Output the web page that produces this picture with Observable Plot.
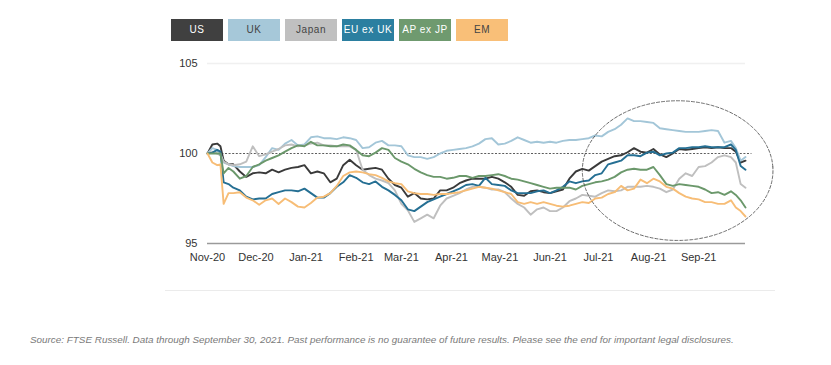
<!DOCTYPE html>
<html>
<head>
<meta charset="utf-8">
<script src="https://cdn.jsdelivr.net/npm/d3@7"></script>
<script src="https://cdn.jsdelivr.net/npm/@observablehq/plot@0.6"></script>
<style>
  html, body { margin: 0; padding: 0; background: #fff; }
  body { width: 831px; height: 365px; position: relative; overflow: hidden; font-family: "Liberation Sans", Arial, sans-serif; }
  #legend { position: absolute; left: 171px; top: 19px; display: flex; gap: 5px; }
  #legend div { width: 52px; height: 22px; line-height: 22px; text-align: center; font-size: 10px; letter-spacing: 0.6px; white-space: nowrap; }
  #chart { position: absolute; left: 0; top: 50px; }
  #sep { position: absolute; left: 165px; top: 290px; width: 610px; height: 1px; background: #ebebeb; }
  #source { position: absolute; left: 30px; top: 334px; font-size: 9.9px; font-style: italic; color: #7a7a7a; white-space: nowrap; }
</style>
</head>
<body>
<div id="legend"></div>
<div id="chart"></div>
<div id="sep"></div>
<div id="source">Source: FTSE Russell. Data through September 30, 2021. Past performance is no guarantee of future results. Please see the end for important legal disclosures.</div>
<script>
const seriesNames = ["US", "UK", "Japan", "EU ex UK", "AP ex JP", "EM"];
const lineColors = ["#3a3a3a", "#a3c6d8", "#bfbfbf", "#256f93", "#6b986b", "#f7bd76"];
const boxColors = ["#404040", "#a6c8d9", "#c0c0c0", "#2b7fa0", "#6f9a6f", "#f9bf78"];
const boxText = ["#fff", "#444", "#444", "#fff", "#fff", "#444"];

const xTickDates = ["2020-11-01","2020-12-01","2021-01-01","2021-02-01","2021-03-01","2021-04-01","2021-05-01","2021-06-01","2021-07-01","2021-08-01","2021-09-01"];
const yTicks = [95, 100, 105];

const dates = ["2020-11-01","2020-11-04","2020-11-07","2020-11-09","2020-11-11","2020-11-14","2020-11-17","2020-11-21","2020-11-25","2020-11-29",
"2020-12-03","2020-12-07","2020-12-11","2020-12-15","2020-12-19","2020-12-23","2020-12-27","2020-12-31",
"2021-01-04","2021-01-08","2021-01-12","2021-01-16","2021-01-20","2021-01-24","2021-01-28",
"2021-02-01","2021-02-05","2021-02-09","2021-02-13","2021-02-17","2021-02-21","2021-02-25",
"2021-03-01","2021-03-05","2021-03-09","2021-03-13","2021-03-17","2021-03-21","2021-03-25","2021-03-29",
"2021-04-02","2021-04-06","2021-04-10","2021-04-14","2021-04-18","2021-04-22","2021-04-26","2021-04-30",
"2021-05-04","2021-05-08","2021-05-12","2021-05-16","2021-05-20","2021-05-24","2021-05-28",
"2021-06-01","2021-06-05","2021-06-09","2021-06-13","2021-06-17","2021-06-21","2021-06-25","2021-06-29",
"2021-07-03","2021-07-07","2021-07-11","2021-07-15","2021-07-19","2021-07-23","2021-07-27","2021-07-31",
"2021-08-04","2021-08-08","2021-08-12","2021-08-16","2021-08-20","2021-08-24","2021-08-28",
"2021-09-01","2021-09-05","2021-09-09","2021-09-13","2021-09-17","2021-09-21","2021-09-24","2021-09-27","2021-09-30"];

const us = [100,100.5,100.55,100.4,99.6,99.4,99.4,99.0,98.7,98.9,
98.95,98.9,99.1,98.95,99.1,99.2,99.25,99.35,
98.9,99.0,98.9,98.4,98.6,99.35,99.65,
99.35,99.1,99.15,99.2,99.1,98.6,98.25,
98.1,97.6,97.8,97.5,97.45,97.5,97.95,97.95,
98.1,98.35,98.5,98.6,98.6,98.6,98.7,98.6,
98.4,98.15,97.7,97.65,97.9,97.95,97.85,
97.8,97.9,98.0,98.6,99.0,99.15,99.05,99.3,
99.55,99.7,99.85,99.9,100.07,100.3,100.1,100.05,
100.25,99.95,99.8,100.0,100.25,100.2,100.25,
100.3,100.35,100.3,100.35,100.3,100.3,100.1,99.5,99.6];

const uk = [100,100.3,100.2,100.0,99.5,99.4,99.3,99.25,99.25,99.25,
99.35,99.8,100.3,100.2,100.55,100.75,100.45,100.5,
100.9,100.95,100.85,100.85,100.8,100.9,100.85,
100.75,100.3,100.35,100.6,100.7,100.45,100.45,
100.4,99.9,99.8,99.8,99.7,99.8,100.0,100.15,
100.2,100.25,100.3,100.4,100.55,100.8,100.85,100.5,
100.55,100.7,100.9,100.75,100.6,100.65,100.6,
100.65,100.6,100.7,100.75,100.75,100.8,100.85,101.0,
100.95,101.2,101.35,101.6,101.95,101.8,101.8,101.75,
101.7,101.4,101.35,101.3,101.25,101.2,101.2,
101.2,101.25,101.3,101.25,100.6,100.7,100.3,99.6,99.8];

const japan = [100,100.1,100.0,99.9,99.55,99.4,99.35,99.4,99.55,100.4,
99.85,99.95,100.1,100.25,100.45,100.5,100.4,100.45,
100.55,100.6,100.45,100.45,100.4,100.4,100.4,
100.2,99.1,98.8,98.6,98.5,98.35,97.95,
97.2,96.85,96.2,96.4,96.6,96.4,97.1,97.5,
97.65,97.8,98.0,98.15,98.15,98.1,98.0,98.0,
97.85,97.5,97.2,97.0,96.6,96.9,97.0,
96.8,96.8,97.0,97.35,97.5,97.7,97.65,97.6,
97.8,97.95,97.9,97.95,98.15,98.15,98.15,98.2,
98.15,98.05,97.85,98.0,98.6,98.9,98.75,
99.25,99.3,99.5,99.8,99.9,99.8,99.5,98.3,98.1];

const euExUk = [100,100.05,100.2,100.1,98.4,98.3,98.1,97.95,97.6,97.45,
97.5,97.5,97.75,97.85,97.95,97.95,97.9,98.05,
97.8,97.55,97.55,97.8,98.15,98.4,98.8,
98.65,98.4,98.3,98.45,98.15,97.95,97.7,
97.4,96.9,96.8,97.05,97.3,97.45,97.6,97.75,
97.9,98.05,98.25,98.3,98.2,98.65,98.3,98.25,
98.2,97.95,97.8,97.8,97.8,97.9,97.95,
97.8,97.95,98.15,98.45,98.35,98.45,98.5,98.8,
98.9,99.4,99.5,99.6,99.9,99.9,99.85,100.05,
100.1,99.9,100.0,100.05,100.3,100.3,100.35,
100.35,100.4,100.35,100.35,100.35,100.5,100.2,99.3,99.1];

const apExJp = [100,100.0,100.0,100.0,98.9,99.2,99.0,98.6,98.75,99.25,
99.4,99.6,99.75,99.9,100.1,100.3,100.45,100.4,
100.65,100.45,100.45,100.4,100.4,100.5,100.45,
100.2,99.9,99.85,100.05,100.3,100.2,99.75,
99.55,99.4,99.15,98.95,98.8,98.7,98.7,98.6,
98.65,98.75,98.75,98.65,98.75,98.75,98.8,98.85,
98.75,98.6,98.55,98.45,98.35,98.25,98.15,
98.05,98.1,98.1,98.1,98.0,98.2,98.3,98.4,
98.45,98.55,98.7,98.95,99.1,99.15,99.1,99.1,
99.25,98.8,98.3,98.2,98.3,98.25,98.2,
98.15,98.0,97.8,97.85,97.7,97.9,97.7,97.4,97.0];

const em = [100,99.5,99.35,99.4,97.2,97.8,97.8,97.85,97.55,97.4,
97.15,97.4,97.5,97.2,97.5,97.3,97.05,97.0,
97.25,97.55,97.6,97.8,98.2,98.75,98.95,
99.0,98.95,98.85,98.8,98.65,98.45,98.35,
98.3,97.9,97.8,97.75,97.75,97.7,97.75,97.75,
97.8,97.85,97.95,98.05,98.15,98.1,98.05,97.95,
97.85,97.75,97.3,97.2,97.3,97.2,97.3,
97.2,97.1,97.05,97.1,97.2,97.3,97.25,97.5,
97.55,97.75,97.85,98.2,97.95,98.05,98.55,98.35,
98.6,98.45,98.15,98.05,97.8,97.6,97.5,
97.45,97.3,97.3,97.2,97.2,97.4,97.0,96.8,96.5];

// Dashed ellipse annotation (centre and radii in data units)
const ellipseCenterDate = "2021-08-19";
const ellipseCenterValue = 99.05;
const ellipseRadiusDays = 59;
const ellipseRadiusValue = 3.88;
const refLineEnd = "2021-10-04";

// Legend
const legend = document.getElementById("legend");
seriesNames.forEach((n, i) => {
  const d = document.createElement("div");
  d.textContent = n;
  d.style.background = boxColors[i];
  d.style.color = boxText[i];
  legend.appendChild(d);
});

const parse = d3.utcParse("%Y-%m-%d");
const allSeries = [us, uk, japan, euExUk, apExJp, em];
const rows = [];
allSeries.forEach((vals, i) => {
  vals.forEach((v, j) => rows.push({series: seriesNames[i], date: parse(dates[j]), value: v}));
});

const c = parse(ellipseCenterDate);
const ell = d3.range(0, 361, 3).map(a => {
  const t = a * Math.PI / 180;
  return {date: d3.utcHour.offset(c, Math.round(ellipseRadiusDays * 24 * Math.cos(t))), value: ellipseCenterValue + ellipseRadiusValue * Math.sin(t)};
});

const chart = Plot.plot({
  width: 831,
  height: 220,
  marginLeft: 207,
  marginRight: 86,
  marginTop: 13,
  marginBottom: 27,
  style: {fontFamily: "'Liberation Sans', Arial, sans-serif", fontSize: "11px", color: "#333", overflow: "visible", background: "transparent"},
  x: {type: "utc", domain: [parse("2020-11-01"), parse("2021-09-30")]},
  y: {domain: [95, 105]},
  color: {domain: seriesNames, range: lineColors},
  marks: [
    Plot.ruleY([105], {stroke: "#f0f0f0", strokeWidth: 1.5}),
    Plot.ruleY([95], {stroke: "#9a9a9a", strokeWidth: 1.3}),
    Plot.ruleY([100], {x1: parse("2020-11-01"), x2: parse(refLineEnd), stroke: "#333", strokeWidth: 0.8, strokeDasharray: "2,1.6"}),
    Plot.line(rows, {x: "date", y: "value", z: "series", stroke: "series", strokeWidth: 1.9, curve: "linear"}),
    Plot.line(ell, {x: "date", y: "value", stroke: "#444", strokeWidth: 0.8, strokeDasharray: "3,2", curve: "catmull-rom-closed"}),
    Plot.axisX(xTickDates.map(parse), {tickSize: 0, tickPadding: 10, tickFormat: d3.utcFormat("%b-%y"), label: null, fill: "#333"}),
    Plot.axisY(yTicks, {tickSize: 0, tickPadding: 10, label: null, fill: "#333"})
  ]
});
document.getElementById("chart").appendChild(chart);
</script>
</body>
</html>
